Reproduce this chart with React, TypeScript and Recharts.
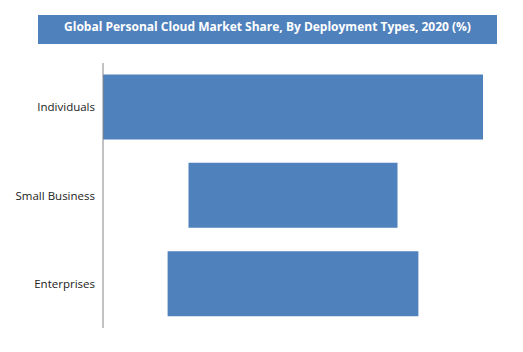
import React from "react";
import { BarChart, Bar, XAxis, YAxis } from "recharts";

const categories = ["Individuals", "Small Business", "Enterprises"];
const shares = [100, 55, 66];

// funnel-style: each bar is centered on the middle of the axis
const data = categories.map((name, i) => ({
  name,
  range: [50 - shares[i] / 2, 50 + shares[i] / 2],
}));

const App = () => {
  return (
    <div
      style={{
        position: "absolute",
        left: 0,
        top: 0,
        width: 523,
        height: 352,
        background: "#fff",
      }}
    >
      <div
        style={{
          position: "absolute",
          left: 38,
          top: 15,
          width: 459,
          height: 29,
          background: "#4F81BD",
          color: "#fff",
          fontFamily: "'Open Sans', sans-serif",
          fontWeight: 700,
          fontSize: 12,
          lineHeight: "24px",
          textAlign: "center",
        }}
      >
        Global Personal Cloud Market Share, By Deployment Types, 2020 (%)
      </div>
      <BarChart
        width={523}
        height={352}
        data={data}
        layout="vertical"
        margin={{ top: 63, right: 40, bottom: 24, left: 0 }}
        barCategoryGap="13%"
      >
        <XAxis type="number" domain={[0, 100]} hide />
        <YAxis
          type="category"
          dataKey="name"
          width={103}
          axisLine={{ stroke: "#868686" }}
          tickLine={false}
          tickSize={0}
          tickMargin={8}
          tick={{ fill: "#222", fontSize: 11.5, fontFamily: "'Open Sans', sans-serif" }}
        />
        <Bar dataKey="range" fill="#4F81BD" isAnimationActive={false} />
      </BarChart>
    </div>
  );
};

export default App;
